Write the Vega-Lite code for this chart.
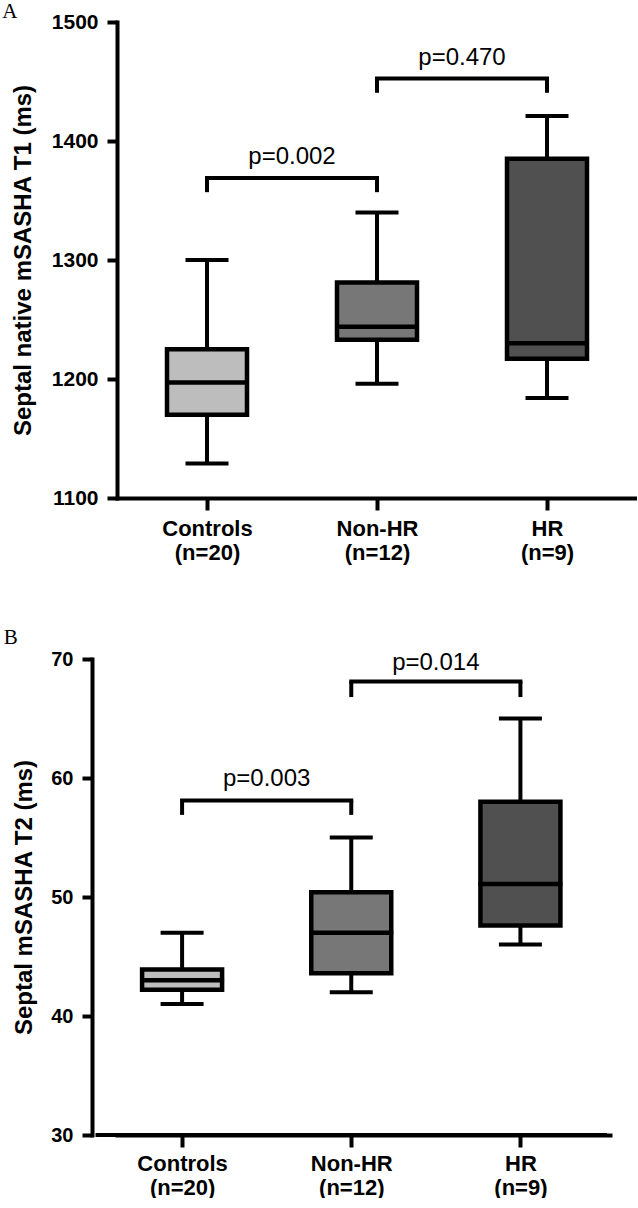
{
  "$schema": "https://vega.github.io/schema/vega-lite/v6.json",
  "background": "white",
  "padding": {"left": 2, "top": 0, "right": 0, "bottom": 0},
  "config": {
    "view": {"stroke": null},
    "font": "Liberation Sans",
    "axis": {
      "domainColor": "black", "domainWidth": 4, "domainCap": "square",
      "tickColor": "black", "tickWidth": 4, "tickSize": 10,
      "labelColor": "black", "labelFont": "Liberation Sans", "labelFontWeight": "bold",
      "titleColor": "black", "titleFont": "Liberation Sans", "titleFontWeight": "bold",
      "grid": false, "labelFlush": false
    }
  },
  "datasets": {
    "boxA": [
      {"group": "Controls", "pos": 1, "lo": 1129, "q1": 1170, "med": 1197, "q3": 1225, "hi": 1300},
      {"group": "Non-HR", "pos": 2, "lo": 1196, "q1": 1233, "med": 1244, "q3": 1281, "hi": 1340},
      {"group": "HR", "pos": 3, "lo": 1184, "q1": 1217, "med": 1230, "q3": 1385, "hi": 1421}
    ],
    "brA": [
      {"from": 1, "to": 2, "mid": 1.5, "top": 1369, "bot": 1357, "ty": 1381, "label": "p=0.002"},
      {"from": 2, "to": 3, "mid": 2.5, "top": 1452.5, "bot": 1440.5, "ty": 1464, "label": "p=0.470"}
    ],
    "boxB": [
      {"group": "Controls", "pos": 1, "lo": 41, "q1": 42.2, "med": 43, "q3": 43.9, "hi": 47},
      {"group": "Non-HR", "pos": 2, "lo": 42, "q1": 43.6, "med": 47, "q3": 50.4, "hi": 55},
      {"group": "HR", "pos": 3, "lo": 46, "q1": 47.6, "med": 51.1, "q3": 58, "hi": 65}
    ],
    "brB": [
      {"from": 1, "to": 2, "mid": 1.5, "top": 58.1, "bot": 56.9, "ty": 59.3, "label": "p=0.003"},
      {"from": 2, "to": 3, "mid": 2.5, "top": 68.1, "bot": 66.8, "ty": 69.1, "label": "p=0.014"}
    ]
  },
  "vconcat": [
    {
      "width": 520, "height": 476,
      "title": {"text": "A", "anchor": "start", "frame": "bounds", "font": "Liberation Serif", "fontSize": 21, "fontWeight": "normal", "color": "black", "baseline": "alphabetic", "offset": -27.5, "dx": -9},
      "encoding": {
        "x": {"type": "quantitative", "scale": {"domain": [0.5, 3.5], "nice": false, "zero": false},
              "axis": {"values": [1, 2, 3], "title": null, "tickSize": 12, "labelPadding": 8, "labelFontSize": 22, "labelLineHeight": 24,
                       "labelExpr": "datum.value == 1 ? ['Controls', '(n=20)'] : datum.value == 2 ? ['Non-HR', '(n=12)'] : ['HR', '(n=9)']"}},
        "y": {"type": "quantitative", "scale": {"domain": [1100, 1500], "nice": false, "zero": false},
              "axis": {"values": [1100, 1200, 1300, 1400, 1500], "format": "d", "title": "Septal native mSASHA T1 (ms)", "titleFontSize": 24, "titlePadding": 16, "labelFontSize": 21, "labelPadding": 9}}
      },
      "layer": [
        {
          "data": {"name": "boxA"},
          "mark": {"type": "rule", "strokeWidth": 4, "color": "black"},
          "encoding": {"x": {"field": "pos"}, "y": {"field": "lo"}, "y2": {"field": "hi"}}
        },
        {
          "data": {"name": "boxA"},
          "mark": {"type": "bar", "width": 80, "stroke": "black", "strokeWidth": 4.5},
          "encoding": {
            "x": {"field": "pos"}, "y": {"field": "q1"}, "y2": {"field": "q3"},
            "color": {"field": "group", "type": "nominal", "legend": null,
                      "scale": {"domain": ["Controls", "Non-HR", "HR"], "range": ["#bdbdbd", "#777777", "#505050"]}}
          }
        },
        {
          "data": {"name": "boxA"},
          "mark": {"type": "tick", "orient": "horizontal", "size": 84, "thickness": 4.5, "color": "black", "opacity": 1},
          "encoding": {"x": {"field": "pos"}, "y": {"field": "med"}}
        },
        {
          "data": {"name": "boxA"},
          "mark": {"type": "tick", "orient": "horizontal", "size": 43, "thickness": 4, "color": "black", "opacity": 1},
          "encoding": {"x": {"field": "pos"}, "y": {"field": "hi"}}
        },
        {
          "data": {"name": "boxA"},
          "mark": {"type": "tick", "orient": "horizontal", "size": 43, "thickness": 4, "color": "black", "opacity": 1},
          "encoding": {"x": {"field": "pos"}, "y": {"field": "lo"}}
        },
        {
          "data": {"name": "brA"},
          "mark": {"type": "rule", "strokeWidth": 4, "color": "black", "strokeCap": "square"},
          "encoding": {"x": {"field": "from"}, "x2": {"field": "to"}, "y": {"field": "top"}}
        },
        {
          "data": {"name": "brA"},
          "mark": {"type": "rule", "strokeWidth": 4, "color": "black"},
          "encoding": {"x": {"field": "from"}, "y": {"field": "top"}, "y2": {"field": "bot"}}
        },
        {
          "data": {"name": "brA"},
          "mark": {"type": "rule", "strokeWidth": 4, "color": "black"},
          "encoding": {"x": {"field": "to"}, "y": {"field": "top"}, "y2": {"field": "bot"}}
        },
        {
          "data": {"name": "brA"},
          "mark": {"type": "text", "font": "Liberation Sans", "fontSize": 24, "baseline": "alphabetic", "align": "center", "color": "black"},
          "encoding": {"x": {"field": "mid"}, "y": {"field": "ty"}, "text": {"field": "label", "type": "nominal"}}
        }
      ]
    },
    {
      "width": 493, "height": 476,
      "title": {"text": "B", "anchor": "start", "frame": "bounds", "font": "Liberation Serif", "fontSize": 21, "fontWeight": "normal", "color": "black", "baseline": "alphabetic", "offset": -15.5, "dx": -9},
      "encoding": {
        "x": {"type": "quantitative", "scale": {"domain": [0.6448, 3.5], "nice": false, "zero": false},
              "axis": {"values": [1, 2, 3], "title": null, "tickSize": 12, "labelPadding": 6, "labelFontSize": 22, "labelLineHeight": 24,
                       "labelExpr": "datum.value == 1 ? ['Controls', '(n=20)'] : datum.value == 2 ? ['Non-HR', '(n=12)'] : ['HR', '(n=9)']"}},
        "y": {"type": "quantitative", "scale": {"domain": [30, 70], "nice": false, "zero": false},
              "axis": {"values": [30, 40, 50, 60, 70], "format": "d", "offset": 25, "title": "Septal mSASHA T2 (ms)", "titleFontSize": 24, "titlePadding": 14, "labelFontSize": 20, "labelPadding": 9}}
      },
      "layer": [
        {
          "data": {"values": [{}]},
          "mark": {"type": "rule", "strokeWidth": 4, "color": "black", "strokeCap": "square"},
          "encoding": {"x": {"datum": 0.5}, "x2": {"datum": 3.5}, "y": {"datum": 30}}
        },
        {
          "data": {"name": "boxB"},
          "mark": {"type": "rule", "strokeWidth": 4, "color": "black"},
          "encoding": {"x": {"field": "pos"}, "y": {"field": "lo"}, "y2": {"field": "hi"}}
        },
        {
          "data": {"name": "boxB"},
          "mark": {"type": "bar", "width": 80, "stroke": "black", "strokeWidth": 4.5},
          "encoding": {
            "x": {"field": "pos"}, "y": {"field": "q1"}, "y2": {"field": "q3"},
            "color": {"field": "group", "type": "nominal", "legend": null,
                      "scale": {"domain": ["Controls", "Non-HR", "HR"], "range": ["#bdbdbd", "#777777", "#505050"]}}
          }
        },
        {
          "data": {"name": "boxB"},
          "mark": {"type": "tick", "orient": "horizontal", "size": 84, "thickness": 4.5, "color": "black", "opacity": 1},
          "encoding": {"x": {"field": "pos"}, "y": {"field": "med"}}
        },
        {
          "data": {"name": "boxB"},
          "mark": {"type": "tick", "orient": "horizontal", "size": 43, "thickness": 4, "color": "black", "opacity": 1},
          "encoding": {"x": {"field": "pos"}, "y": {"field": "hi"}}
        },
        {
          "data": {"name": "boxB"},
          "mark": {"type": "tick", "orient": "horizontal", "size": 43, "thickness": 4, "color": "black", "opacity": 1},
          "encoding": {"x": {"field": "pos"}, "y": {"field": "lo"}}
        },
        {
          "data": {"name": "brB"},
          "mark": {"type": "rule", "strokeWidth": 4, "color": "black", "strokeCap": "square"},
          "encoding": {"x": {"field": "from"}, "x2": {"field": "to"}, "y": {"field": "top"}}
        },
        {
          "data": {"name": "brB"},
          "mark": {"type": "rule", "strokeWidth": 4, "color": "black"},
          "encoding": {"x": {"field": "from"}, "y": {"field": "top"}, "y2": {"field": "bot"}}
        },
        {
          "data": {"name": "brB"},
          "mark": {"type": "rule", "strokeWidth": 4, "color": "black"},
          "encoding": {"x": {"field": "to"}, "y": {"field": "top"}, "y2": {"field": "bot"}}
        },
        {
          "data": {"name": "brB"},
          "mark": {"type": "text", "font": "Liberation Sans", "fontSize": 24, "baseline": "alphabetic", "align": "center", "color": "black"},
          "encoding": {"x": {"field": "mid"}, "y": {"field": "ty"}, "text": {"field": "label", "type": "nominal"}}
        }
      ]
    }
  ],
  "spacing": 63,
  "resolve": {"scale": {"x": "independent", "y": "independent", "color": "shared"}}
}
